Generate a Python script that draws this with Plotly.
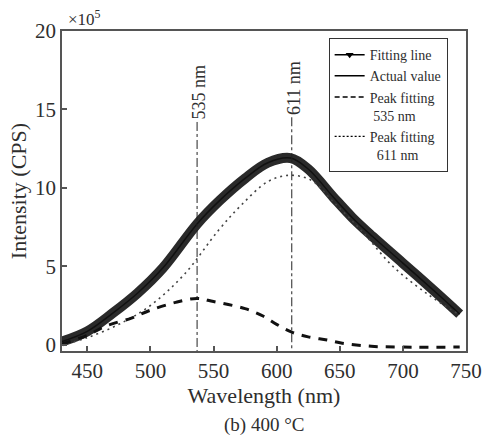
import plotly.graph_objects as go

# Data (intensity in units of 1e5 CPS)
fit_x = [430, 450, 470, 490, 510, 537, 555, 575, 593, 611, 625, 645, 660, 676, 700, 728, 745]
fit_y = [0.2, 0.85, 2.0, 3.3, 4.9, 7.7, 9.2, 10.6, 11.6, 11.9, 11.2, 9.4, 8.1, 6.9, 5.2, 3.2, 1.95]

peak535_x = [430, 450, 465, 485, 500, 520, 537, 550, 575, 590, 600, 612, 625, 640, 652, 675, 700, 745]
peak535_y = [0.05, 0.6, 1.2, 1.7, 2.2, 2.7, 2.95, 2.75, 2.3, 1.8, 1.3, 0.8, 0.5, 0.3, 0.1, -0.1, -0.15, -0.15]

peak611_x = [430, 450, 475, 500, 527, 554, 572, 593, 610, 627, 645, 668, 692, 720, 745]
peak611_y = [0.0, 0.45, 1.3, 2.5, 4.5, 7.3, 8.9, 10.4, 10.8, 10.5, 9.1, 7.2, 5.0, 3.2, 1.9]

marker_lines = [537, 612]
marker_labels = ["535 nm", "611 nm"]
marker_tops = [14.2, 14.5]

x_ticks = [450, 500, 550, 600, 650, 700, 750]
y_ticks = [0, 5, 10, 15, 20]

SERIF = "Liberation Serif"
TXT = "#2e2e2e"

fig = go.Figure()

# thick fitting line
fig.add_trace(go.Scatter(x=fit_x, y=fit_y, mode="lines",
                         line=dict(color="#2a2a2a", width=10, shape="spline", smoothing=1.0),
                         showlegend=False, hoverinfo="skip"))
# actual value (thin, on top)
fig.add_trace(go.Scatter(x=fit_x, y=fit_y, mode="lines",
                         line=dict(color="#111111", width=1.5, shape="spline", smoothing=1.0),
                         showlegend=False, hoverinfo="skip"))
fig.add_trace(go.Scatter(x=peak611_x, y=peak611_y, mode="lines",
                         line=dict(color="#444444", width=1.6, dash="2px,4px", shape="spline"),
                         showlegend=False))
fig.add_trace(go.Scatter(x=peak535_x, y=peak535_y, mode="lines",
                         line=dict(color="#111111", width=3, dash="9px,8px", shape="spline"),
                         showlegend=False))

for xv, yt in zip(marker_lines, marker_tops):
    fig.add_trace(go.Scatter(x=[xv, xv], y=[yt, -0.4], mode="lines",
                             line=dict(color="#222222", width=1, dash="dashdot"), showlegend=False))

# legend entries
fig.add_trace(go.Scatter(x=[None], y=[None], mode="lines+markers", name="Fitting line",
                         line=dict(color="black", width=1.5),
                         marker=dict(symbol="triangle-down", size=7, color="black")))
fig.add_trace(go.Scatter(x=[None], y=[None], mode="lines", name="Actual value",
                         line=dict(color="black", width=1.5)))
fig.add_trace(go.Scatter(x=[None], y=[None], mode="lines", name="Peak fitting<br>\u00a0535 nm",
                         line=dict(color="black", width=1.5, dash="5px,3px")))
fig.add_trace(go.Scatter(x=[None], y=[None], mode="lines", name="Peak fitting<br>\u00a0\u00a0611 nm",
                         line=dict(color="black", width=1.2, dash="2px,2px")))

for xv, yt, lab in zip(marker_lines, marker_tops, marker_labels):
    fig.add_annotation(x=xv, y=yt, xref="x", yref="y", text=lab, textangle=-90,
                       showarrow=False, yanchor="bottom", xanchor="center", xshift=2, yshift=0,
                       font=dict(family=SERIF, size=18, color=TXT))

fig.add_annotation(x=0.0, y=1.0, xref="paper", yref="paper", text="×10<sup>5</sup>",
                   showarrow=False, xanchor="left", yanchor="bottom", xshift=4, yshift=0,
                   font=dict(family=SERIF, size=17, color=TXT))
fig.add_annotation(x=0.5, y=0, xref="paper", yref="paper", text="(b) 400 °C",
                   showarrow=False, xanchor="center", yanchor="middle", yshift=-74,
                   font=dict(family=SERIF, size=19, color=TXT))

axis_common = dict(showgrid=False, zeroline=False, showline=True, mirror=True,
                   linecolor="#555555", linewidth=1.5, ticks="inside", ticklen=5,
                   tickcolor="#555555", tickwidth=1.5,
                   tickfont=dict(family=SERIF, size=21, color=TXT))

fig.update_layout(
    width=494, height=436,
    margin=dict(l=62, r=19, t=31, b=85),
    plot_bgcolor="white", paper_bgcolor="white",
    xaxis=dict(range=[430, 750], tickvals=x_ticks,
               title=dict(text="Wavelength (nm)", font=dict(family=SERIF, size=22, color=TXT), standoff=2),
               **axis_common),
    yaxis=dict(range=[-0.4, 20], tickvals=y_ticks,
               title=dict(text="Intensity (CPS)", font=dict(family=SERIF, size=22, color=TXT), standoff=2),
               **axis_common),
    legend=dict(x=0.66, y=0.978, xanchor="left", yanchor="top",
                bordercolor="#333", borderwidth=1, bgcolor="white",
                font=dict(family=SERIF, size=14, color=TXT),
                tracegroupgap=0, itemwidth=30, valign="top"),
    showlegend=True,
)

fig.write_html("out.html", config={"displayModeBar": False},
               post_script="document.body.style.margin='0px';document.body.style.overflow='hidden';")
